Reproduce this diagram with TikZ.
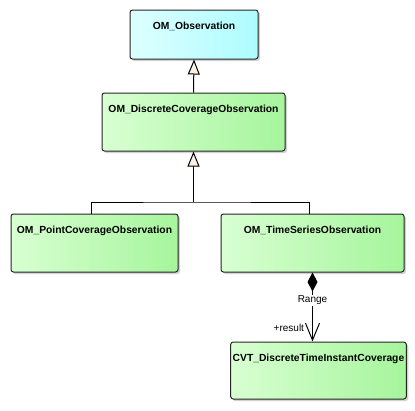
\documentclass[tikz,border=0pt]{standalone}
\usepackage{fontspec}
\setmainfont{Liberation Sans}
\usetikzlibrary{arrows.meta,shadows}
\definecolor{cyanL}{HTML}{DDFFFF}
\definecolor{cyanR}{HTML}{AEFCFF}
\definecolor{greenL}{HTML}{D8FFD2}
\definecolor{greenR}{HTML}{A6F59C}
\definecolor{cream}{HTML}{FAF2E6}
\tikzset{
  umlbox/.style={draw=black!85, line width=1pt, rounded corners=2.5pt, inner xsep=2pt, inner ysep=0pt,
    font=\fontsize{10.3}{12}\selectfont\bfseries, text height=19.5pt,
    drop shadow={shadow xshift=2pt, shadow yshift=-2pt, fill=black!30, opacity=0.6}},
  greenbox/.style={umlbox, left color=greenL, right color=greenR},
  cyanbox/.style={umlbox, left color=cyanL, right color=cyanR},
  gen/.style={line width=1pt, -{Triangle[open, length=15pt, width=12pt, fill=cream]}},
  comp/.style={line width=1pt, {Diamond[length=19pt, width=10pt]}-{Straight Barb[length=17pt, width=14pt, line width=1pt]}},
  lbl/.style={font=\fontsize{10}{12}\selectfont, inner sep=1pt}
}
\begin{document}
\begin{tikzpicture}[x=1pt,y=-1pt]
\useasboundingbox (0,0) rectangle (415,410);
\node[cyanbox, minimum width=128pt, minimum height=49pt, text depth=29.5pt] (obs) at (194,34.5) {OM\_Observation};
\node[greenbox, minimum width=183pt, minimum height=58pt, text depth=38.5pt] (disc) at (193.5,122) {OM\_DiscreteCoverageObservation};
\node[greenbox, minimum width=167pt, minimum height=58pt, text depth=38.5pt] (point) at (94.5,243) {OM\_PointCoverageObservation};
\node[greenbox, minimum width=183pt, minimum height=58pt, text depth=38.5pt] (ts) at (312.5,243) {OM\_TimeSeriesObservation};
\node[greenbox, minimum width=171pt, minimum height=57pt, text depth=37.5pt] (cvt) at (318.5,370.5) {CVT\_DiscreteTimeInstantCoverage};
\coordinate (j) at (193.5,202);
\draw[gen] (disc.north) -- (obs.south);
\draw[line width=1pt] ([xshift=-3.5pt]point.north) |- (j) -| ([xshift=-3.5pt]ts.north);
\draw[gen] (j) -- (disc.south);
\draw[comp] (ts.south) -- (ts.south |- cvt.north)
  node[lbl, pos=0.4, fill=white] (rng) {Range}
  node[lbl, pos=0.81, anchor=east, xshift=-7pt] (res) {+result};
\end{tikzpicture}
\end{document}
